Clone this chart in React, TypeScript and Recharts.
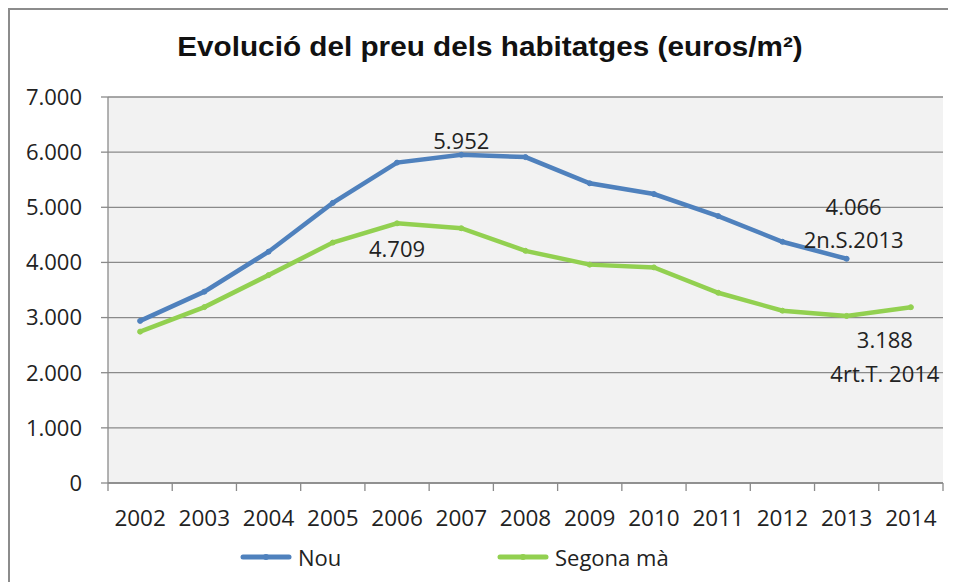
import { LineChart, Line, XAxis, YAxis, CartesianGrid, Legend, LabelList } from 'recharts'

const YEARS = [2002, 2003, 2004, 2005, 2006, 2007, 2008, 2009, 2010, 2011, 2012, 2013, 2014]
const NOU = [2940, 3470, 4195, 5080, 5810, 5952, 5910, 5435, 5240, 4840, 4375, 4066, null]
const SEGONA_MA = [2745, 3190, 3770, 4360, 4709, 4620, 4210, 3960, 3910, 3450, 3125, 3030, 3188]
const Y_TICKS = [0, 1000, 2000, 3000, 4000, 5000, 6000, 7000]

// punts amb etiqueta i text extra
const NOU_LABEL_YEARS = [2007, 2013]
const NOU_LABEL_NOTES = ['', '2n.S.2013']
const SEGONA_LABEL_YEARS = [2006, 2014]
const SEGONA_LABEL_NOTES = ['', '4rt.T. 2014']

const BLUE = '#4f81bd'
const GREEN = '#92d050'
const GRID = '#8a8a8a'
const FONT = '"Open Sans", Calibri, sans-serif'

const LABEL_OFFSET: Record<string, { dx: number; dy: number[] }> = {
  'nou-2007': { dx: 0, dy: [-6] },
  'nou-2013': { dx: 7, dy: [-44, -11] },
  'seg-2006': { dx: 0, dy: [34] },
  'seg-2014': { dx: -26, dy: [41, 75] },
}

const data = YEARS.map((year, i) => ({ year, nou: NOU[i], segona: SEGONA_MA[i] }))

const X_TICKS = [YEARS[0] - 0.5, ...YEARS.flatMap((y) => [y, y + 0.5])]

const fmt = (v: number) => String(v).replace(/\B(?=(\d{3})+(?!\d))/g, '.')

function makeLabel(prefix: string, years: number[], notes: string[]) {
  return (props: any) => {
    const { x, y, value, index } = props
    const year = YEARS[index]
    const k = years.indexOf(year)
    if (k < 0 || value == null) return null
    const off = LABEL_OFFSET[`${prefix}-${year}`]
    const lines = [fmt(value), notes[k]].filter((s) => s)
    return (
      <g>
        {lines.map((t, j) => (
          <text
            key={j}
            x={x + off.dx}
            y={y + off.dy[j]}
            textAnchor="middle"
            fontFamily={FONT}
            fontSize={22}
            fill="#222"
          >
            {t}
          </text>
        ))}
      </g>
    )
  }
}

function XTick(props: any) {
  const { x, y, payload } = props
  const v = payload.value as number
  if (v % 1 !== 0) {
    return <line x1={x} x2={x} y1={y} y2={y + 8} stroke={GRID} strokeWidth={1.3} />
  }
  return (
    <text x={x} y={y + 43} textAnchor="middle" fontFamily={FONT} fontSize={22.5} fill="#222">
      {v}
    </text>
  )
}

const LEGEND_X = [230, 487]

function LegendContent(props: any) {
  const { payload } = props
  return (
    <div style={{ position: 'relative', height: 30, width: 946 }}>
      {payload.map((p: any, i: number) => (
        <div
          key={p.value}
          style={{
            position: 'absolute',
            left: LEGEND_X[i],
            top: 0,
            height: 30,
            display: 'flex',
            alignItems: 'center',
            fontFamily: FONT,
            fontSize: 22,
            color: '#222',
          }}
        >
          <svg width={52} height={10} style={{ marginRight: 6 }}>
            <line x1={3} x2={49} y1={5} y2={5} stroke={p.color} strokeWidth={5} strokeLinecap="round" />
            <circle cx={26} cy={5} r={3} fill={p.color} />
          </svg>
          {p.value}
        </div>
      ))}
    </div>
  )
}

export default function App() {
  return (
    <div
      style={{
        position: 'relative',
        width: 948,
        height: 574,
        borderTop: '2px solid #8c8c8c',
        borderLeft: '2px solid #8c8c8c',
        boxSizing: 'border-box',
        background: '#fff',
      }}
    >
      <LineChart
        width={946}
        height={572}
        data={data}
        margin={{ top: 87, right: 13, bottom: 19, left: 8 }}
      >
        <CartesianGrid vertical={false} fill="#f2f2f2" stroke={GRID} strokeWidth={1.3} />
        <XAxis
          dataKey="year"
          type="number"
          domain={[YEARS[0] - 0.5, YEARS[YEARS.length - 1] + 0.5]}
          ticks={X_TICKS}
          interval={0}
          tickLine={false}
          tickSize={0}
          tickMargin={0}
          tick={<XTick />}
          axisLine={{ stroke: GRID, strokeWidth: 1.3 }}
          height={50}
        />
        <YAxis
          domain={[0, 7000]}
          ticks={Y_TICKS}
          interval={0}
          width={90}
          tickSize={7}
          tickMargin={19}
          tickFormatter={fmt}
          tickLine={{ stroke: GRID, strokeWidth: 1.3 }}
          axisLine={{ stroke: GRID, strokeWidth: 1.3 }}
          tick={{ fontFamily: FONT, fontSize: 22, fill: '#222' }}
        />
        <Line
          dataKey="nou"
          name="Nou"
          stroke={BLUE}
          strokeWidth={4.5}
          dot={{ r: 2.5, fill: BLUE, stroke: BLUE, strokeWidth: 1 }}
          isAnimationActive={false}
        >
          <LabelList dataKey="nou" content={makeLabel('nou', NOU_LABEL_YEARS, NOU_LABEL_NOTES)} />
        </Line>
        <Line
          dataKey="segona"
          name="Segona mà"
          stroke={GREEN}
          strokeWidth={4.5}
          dot={{ r: 2.5, fill: GREEN, stroke: GREEN, strokeWidth: 1 }}
          isAnimationActive={false}
        >
          <LabelList dataKey="segona" content={makeLabel('seg', SEGONA_LABEL_YEARS, SEGONA_LABEL_NOTES)} />
        </Line>
        <Legend
          verticalAlign="bottom"
          content={<LegendContent />}
          wrapperStyle={{ left: 0, top: 532, width: 946, height: 30 }}
        />
      </LineChart>
      <div
        style={{
          position: 'absolute',
          left: 0,
          top: 22,
          width: 960,
          textAlign: 'center',
          fontFamily: '"Liberation Sans", Arial, sans-serif',
          fontWeight: 'bold',
          fontSize: 27,
          lineHeight: '30px',
          color: '#111',
          transform: 'scaleX(1.1)',
          transformOrigin: '480px 0',
        }}
      >
        Evolució del preu dels habitatges (euros/m²)
      </div>
    </div>
  )
}
